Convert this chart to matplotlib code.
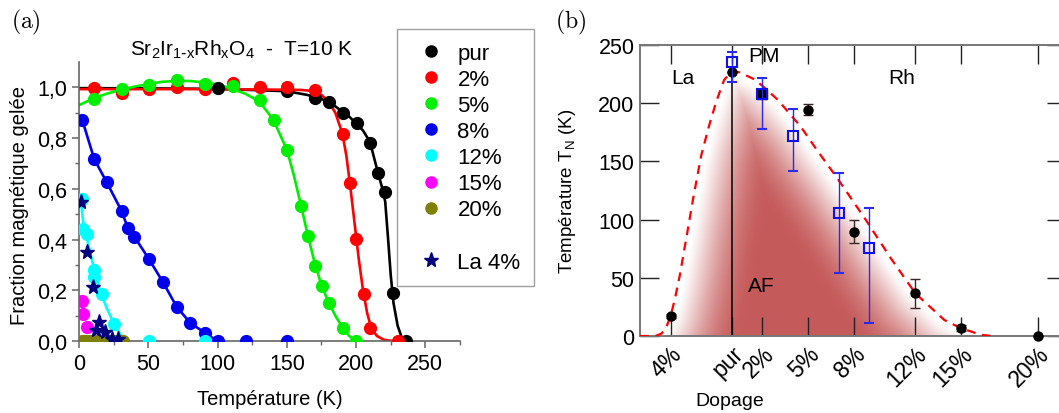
import numpy as np
import matplotlib
matplotlib.use('Agg')
import matplotlib.pyplot as plt
from matplotlib.lines import Line2D

plt.rcParams['font.family'] = ['Liberation Sans', 'DejaVu Sans']
plt.rcParams['mathtext.default'] = 'regular'

# ---------------- Panel (a) data ----------------
T_pur = [100, 150, 170.5, 180.6, 190.3, 200.6, 210.3, 215.8, 220.6, 226.6, 236.3]
F_pur = [0.996, 0.984, 0.958, 0.941, 0.899, 0.859, 0.779, 0.662, 0.586, 0.188, 0.0]
fitT_pur = [0, 50, 100, 150, 165, 175, 185, 195, 205, 210, 215, 219, 221, 223, 225, 227, 230, 233, 237]
fitF_pur = [0.997, 0.996, 0.994, 0.985, 0.97, 0.955, 0.925, 0.885, 0.83, 0.785, 0.68, 0.6, 0.55, 0.41,
            0.26, 0.15, 0.06, 0.013, 0.0]

T_2 = [11, 30.8, 50.6, 70.6, 90.6, 110.8, 130.8, 150, 170.5, 190.3, 195.3, 200.1, 205.4, 210.3, 230.2]
F_2 = [0.996, 0.976, 0.995, 1.003, 0.995, 1.017, 1.003, 1.003, 0.99, 0.818, 0.624, 0.404, 0.184, 0.053, 0.0]
fitT_2 = [0, 100, 160, 170, 175, 180, 185, 190, 193, 196, 199, 202, 205, 208, 211, 215, 220, 226, 232]
fitF_2 = [0.993, 0.993, 0.99, 0.985, 0.97, 0.945, 0.9, 0.82, 0.73, 0.6, 0.46, 0.32, 0.2, 0.11, 0.05,
          0.02, 0.005, 0.0, 0.0]

T_5 = [11, 30.8, 50.6, 70.6, 90.6, 110.8, 130.3, 140.4, 150, 160.2, 165.5, 170.3, 175.3, 180.6, 190.3, 200.1]
F_5 = [0.954, 0.992, 1.009, 1.029, 1.013, 1.005, 0.95, 0.872, 0.753, 0.533, 0.414, 0.296, 0.217, 0.151,
       0.053, 0.0]
fitT_5 = [0, 10, 20, 30, 40, 50, 60, 70, 80, 90, 100, 110, 120, 130, 140, 150, 155, 160, 165, 170, 175,
          180, 185, 190, 195, 200]
fitF_5 = [0.93, 0.955, 0.975, 0.99, 1.003, 1.013, 1.022, 1.025, 1.025, 1.02, 1.012, 0.995, 0.975, 0.945,
          0.875, 0.755, 0.655, 0.54, 0.42, 0.31, 0.22, 0.155, 0.10, 0.055, 0.02, 0.0]

T_8 = [2.4, 11, 20, 30.8, 35.2, 40, 50.6, 60.5, 70.6, 80.2, 90.6, 100.2, 120.2, 150]
F_8 = [0.871, 0.717, 0.626, 0.512, 0.446, 0.411, 0.322, 0.233, 0.134, 0.072, 0.033, 0.0, 0.0, 0.0]
fitT_8 = [2.4, 11, 20, 30.8, 35.2, 40, 50.6, 60.5, 70.6, 80.2, 90.6, 97, 103]
fitF_8 = [0.871, 0.717, 0.626, 0.512, 0.446, 0.411, 0.322, 0.233, 0.134, 0.072, 0.033, 0.01, 0.0]

T_12 = [1.9, 2.6, 6, 11, 11, 16.9, 25.3, 50.6, 90.6]
F_12 = [0.559, 0.441, 0.421, 0.28, 0.254, 0.184, 0.068, 0.0, 0.0]
fitT_12 = [1, 3, 6, 11, 15, 20, 25, 30, 35]
fitF_12 = [0.57, 0.47, 0.40, 0.28, 0.20, 0.13, 0.07, 0.025, 0.0]

T_15 = [1.9, 3.1, 5.5]
F_15 = [0.158, 0.105, 0.055]

T_20 = [2, 5, 8, 11, 14, 17, 20, 23, 26, 29, 32]
F_20 = [0.0, 0.0, 0.0, 0.0, 0.0, 0.0, 0.0, 0.0, 0.0, 0.0, 0.0]

T_La = [1.4, 5.5, 10.1, 14.5, 12.3, 18.8, 23.6, 28.4]
F_La = [0.55, 0.349, 0.214, 0.075, 0.043, 0.036, 0.009, 0.007]

legend_labels = ['pur', '2%', '5%', '8%', '12%', '15%', '20%', 'La 4%']
xticks_a = [0, 50, 100, 150, 200, 250]
yticks_a = [0.0, 0.2, 0.4, 0.6, 0.8, 1.0]
yticklabels_a = ['0,0', '0,2', '0,4', '0,6', '0,8', '1,0']

# ---------------- Panel (b) data ----------------
dop_ticks = [-4, 0, 2, 5, 8, 12, 15, 20]
dop_labels = ['4%', 'pur', '2%', '5%', '8%', '12%', '15%', '20%']

blk_x = [-4, 0, 5, 8, 12, 15, 20]
blk_TN = [17, 227, 194.5, 89.6, 36.6, 6.9, 0]
blk_err = [1.5, 0, 5, 10, 12.6, 2.5, 0]
blksq_x = [2, 15]
blksq_TN = [207.5, 6.9]

blu_x = [0, 2, 4, 7, 9]
blu_TN = [235, 207.5, 172, 105.4, 75.6]
blu_err_lo = [17, 29.5, 30, 51.5, 64.4]
blu_err_hi = [9, 14.5, 23, 34.4, 34]

curve_x = [-6.0, -5.0, -4.6, -4.3, -4.0, -3.7, -3.4, -3.0, -2.5, -2.0, -1.5, -1.0, -0.5, 0.0, 0.5, 1.4,
           2.0, 3.0, 4.5, 5.5, 6.9, 8.7, 10.4, 12.0, 13.9, 15.0, 16.3, 17.0]
curve_y = [0, 0, 2, 7, 17, 33, 52, 82, 120, 155, 180, 202, 220, 227.5, 226.5, 221, 215, 203, 180, 161,
           135.5, 101, 66.7, 36.7, 13.7, 6.6, 1, 0]

fig = plt.figure(figsize=(10.59, 4.14), dpi=100)

# =============== Panel (a) ===============
W, H = 1059.0, 414.0
axa = fig.add_axes([79 / W, (H - 342) / H, (460 - 79) / W, (342 - 63) / H])
axa.set_xlim(0, 275)
axa.set_ylim(0, 1.1)

ms = 8.5
lw = 1.9
series = [
    (T_pur, F_pur, fitT_pur, fitF_pur, 'black'),
    (T_2, F_2, fitT_2, fitF_2, 'red'),
    (T_5, F_5, fitT_5, fitF_5, '#00ee00'),
    (T_8, F_8, fitT_8, fitF_8, '#0000ee'),
    (T_12, F_12, fitT_12, fitF_12, 'cyan'),
]
handles = []
for T, F, fT, fF, c in series:
    axa.plot(fT, fF, '-', color=c, lw=lw, zorder=2)
for T, F, fT, fF, c in series:
    axa.plot(T, F, 'o', color=c, ms=ms, mec=c, zorder=3)
axa.plot(T_15, F_15, 'o', color='magenta', ms=ms, zorder=3)
axa.plot(T_20, F_20, 'o', color='#808000', ms=ms, zorder=3)
axa.plot(T_La, F_La, '*', color='#000080', ms=11, zorder=4)

cols = ['black', 'red', '#00ee00', '#0000ee', 'cyan', 'magenta', '#808000']
for c, lab in zip(cols, legend_labels[:7]):
    handles.append(Line2D([], [], ls='none', marker='o', color=c, ms=8, label=lab))
handles.append(Line2D([], [], ls='none', marker='', label=' '))
handles.append(Line2D([], [], ls='none', marker='*', color='#000080', ms=11, label=legend_labels[7]))

axa.set_xticks(xticks_a)
axa.set_xticks([25, 75, 125, 175, 225, 275], minor=True)
axa.set_yticks(yticks_a)
axa.set_yticklabels(yticklabels_a)
axa.set_yticks([0.1, 0.3, 0.5, 0.7, 0.9], minor=True)
for s in ['top', 'right']:
    axa.spines[s].set_visible(False)
for s in ['left', 'bottom']:
    axa.spines[s].set_color('#666666')
    axa.spines[s].set_linewidth(1.2)
axa.tick_params(which='major', direction='out', length=5, width=1.1, color='#666666', labelsize=15.5)
axa.tick_params(which='minor', direction='out', length=3, width=1.0, color='#666666')
axa.set_xlabel('Température (K)', fontsize=14.5, labelpad=11)
axa.set_ylabel('Fraction magnétique gelée', fontsize=14.5)
axa.yaxis.set_label_coords((29 - 79) / 381.0, 0.49)
fig.text(242 / W, 1 - 50 / H, r'Sr$_2$Ir$_{1\text{-}x}$Rh$_x$O$_4$  -  T=10 K', ha='center', va='center',
         fontsize=15)

leg = fig.legend(handles=handles, loc='upper left', bbox_to_anchor=(397 / W, 1 - 30 / H), fontsize=16,
                 frameon=True, fancybox=False, borderpad=0.62, labelspacing=0.23, handlelength=1.8,
                 handletextpad=0.3, borderaxespad=0)
leg.get_frame().set_edgecolor('#888888')
leg.get_frame().set_linewidth(1.0)

fig.text(26 / W, 1 - 22 / H, r'$\mathrm{(a)}$', fontsize=17, ha='center', va='center',
         math_fontfamily='cm')

# =============== Panel (b) ===============
xr = 21.85
axb = fig.add_axes([640 / W, (H - 337) / H, (1066 - 640) / W, 291 / H])
axb.set_xlim(-6, xr)
axb.set_ylim(0, 250)

# shading below the dashed curve, fading towards the curve
sx = 15.3
sy = 291 / 250.0
gx = np.linspace(-6, xr, 320)
gy = np.linspace(0, 250, 220)
GX, GY = np.meshgrid(gx, gy)
under = GY < np.interp(GX, curve_x, curve_y)
cx = np.linspace(curve_x[0], curve_x[-1], 900)
cy = np.interp(cx, curve_x, curve_y)
pts = np.column_stack([GX.ravel() * sx, GY.ravel() * sy])
cpts = np.column_stack([cx * sx, cy * sy])
dmin = np.empty(len(pts))
step = 2000
for i in range(0, len(pts), step):
    d = ((pts[i:i + step, None, :] - cpts[None, :, :]) ** 2).sum(-1)
    dmin[i:i + step] = np.sqrt(d.min(1))
dmin = dmin.reshape(GX.shape)
t = np.clip((dmin - 4) / 72.0, 0, 1)
alpha = (1 - (1 - t) ** 2) ** 1.3 * under
img = np.zeros(GX.shape + (4,))
img[..., 0] = 0.77
img[..., 1] = 0.34
img[..., 2] = 0.34
img[..., 3] = alpha * 0.98
axb.imshow(img, extent=[-6, xr, 0, 250], origin='lower', aspect='auto', interpolation='bilinear', zorder=0)

axb.plot([0, 0], [0, 227], color='black', lw=1.1, zorder=2)
axb.plot(curve_x, curve_y, color='red', lw=1.6, dashes=(4, 3), zorder=3)

axb.errorbar(blk_x, blk_TN, yerr=blk_err, fmt='o', color='black', ms=6.5, ecolor='#3a2626',
             elinewidth=1.0, capsize=3.5, capthick=1.0, zorder=5, clip_on=False)
axb.plot(blksq_x[:1], blksq_TN[:1], 's', color='black', ms=6.5, zorder=5)
axb.plot(blksq_x[1:], blksq_TN[1:], 's', color='black', ms=5, zorder=5)
axb.errorbar(blu_x, blu_TN, yerr=[blu_err_lo, blu_err_hi], fmt='s', mfc='none', mec='#1010ee', mew=1.5,
             ms=7, ecolor='#2a2aee', elinewidth=1.0, capsize=3.5, capthick=1.0, zorder=6)

axb.set_xticks(dop_ticks)
axb.set_xticklabels(dop_labels, rotation=45, ha='right', va='top', rotation_mode='anchor')
axb.set_yticks([0, 50, 100, 150, 200, 250])
axb.tick_params(axis='both', direction='in', length=14, width=1.0, color='#222222', labelsize=15.5,
                top=True, right=True, bottom=True, left=True)
axb.tick_params(axis='x', pad=4, labelsize=16.5)
axb.tick_params(axis='y', pad=4)
for s in axb.spines.values():
    s.set_color('#777777')
    s.set_linewidth(1.4)
axb.set_ylabel('Température T$_N$ (K)', fontsize=13.5)
axb.yaxis.set_label_coords((578 - 640) / 426.0, 0.5)
fig.text(730 / W, 1 - 402 / H, 'Dopage', fontsize=14, ha='center', va='center')

axb.text(-3.2, 222, 'La', fontsize=15, ha='center', va='center')
axb.text(2.1, 241, 'PM', fontsize=15, ha='center', va='center')
axb.text(11.1, 222, 'Rh', fontsize=15, ha='center', va='center')
axb.text(1.9, 43, 'AF', fontsize=15, ha='center', va='center')

fig.text(571 / W, 1 - 22 / H, r'$\mathrm{(b)}$', fontsize=17, ha='center', va='center',
         math_fontfamily='cm')

fig.savefig('out.png', dpi=100)
